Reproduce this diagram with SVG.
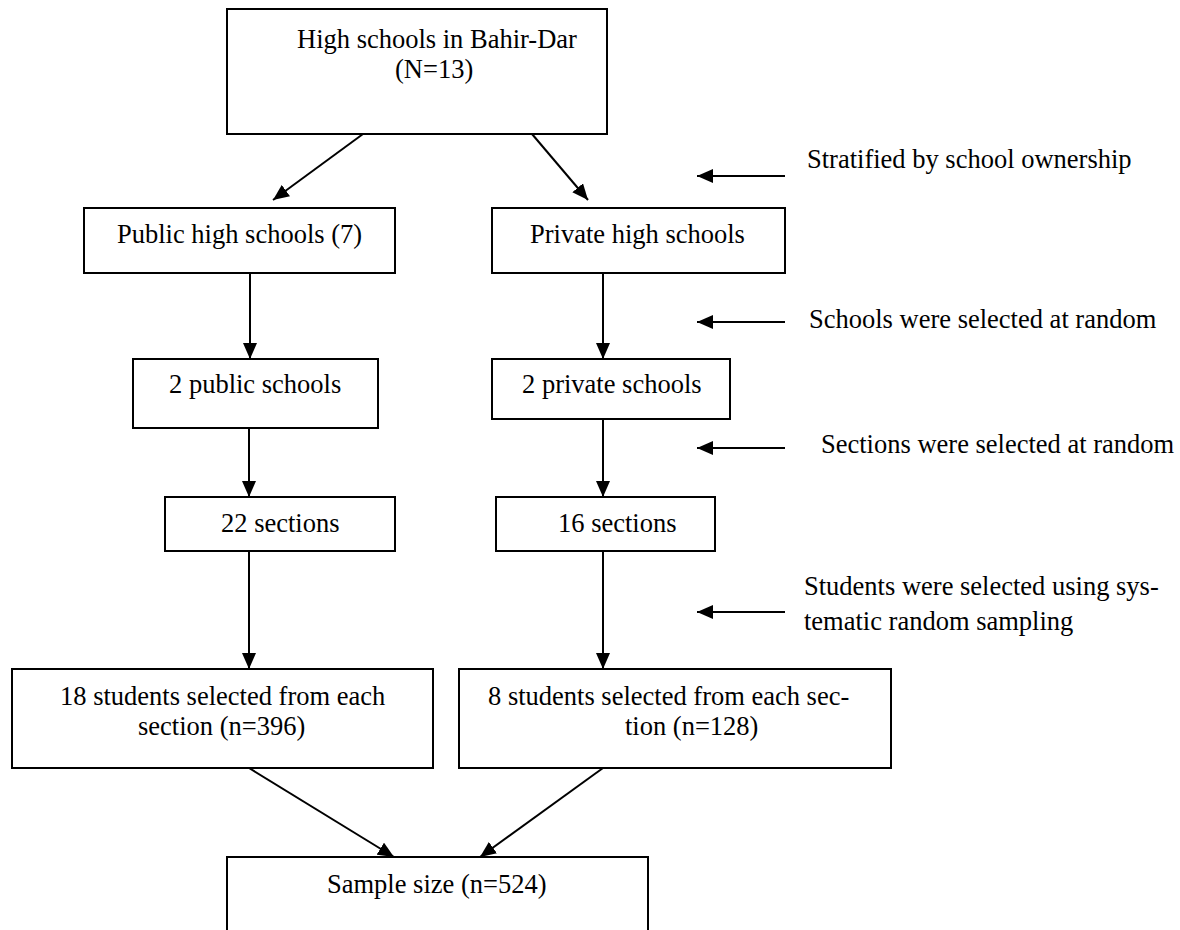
<svg xmlns="http://www.w3.org/2000/svg" width="1180" height="930" viewBox="0 0 1180 930">
<defs>
<style>
.box{fill:#fff;stroke:#000;stroke-width:2}
.t{font-family:"Liberation Serif","Times New Roman",serif;font-size:26.5px;fill:#000}
.c{stroke:#000;stroke-width:2;fill:none;marker-end:url(#ah)}
</style>
<marker id="ah" markerUnits="userSpaceOnUse" markerWidth="16" markerHeight="14" viewBox="0 0 16 14" refX="16" refY="7" orient="auto">
<path d="M0,0 L16,7 L0,14 Z" fill="#000"/>
</marker>
</defs>
<rect width="1180" height="930" fill="#fff"/>
<g id="connectors">
<line class="c" x1="363" y1="134" x2="273" y2="200"/>
<line class="c" x1="532" y1="134" x2="588" y2="200"/>
<line class="c" x1="250" y1="273" x2="250" y2="359"/>
<line class="c" x1="603" y1="273" x2="603" y2="359"/>
<line class="c" x1="249" y1="428" x2="249" y2="497"/>
<line class="c" x1="603" y1="419" x2="603" y2="497"/>
<line class="c" x1="249" y1="551" x2="249" y2="669"/>
<line class="c" x1="603" y1="551" x2="603" y2="669"/>
<line class="c" x1="249" y1="768" x2="394" y2="857"/>
<line class="c" x1="603" y1="768" x2="480" y2="857"/>
<line class="c" x1="785" y1="176" x2="697" y2="176"/>
<line class="c" x1="785" y1="322" x2="697" y2="322"/>
<line class="c" x1="785" y1="448" x2="697" y2="448"/>
<line class="c" x1="785" y1="612" x2="697" y2="612"/>
</g>
<g id="n-top"><rect class="box" x="227" y="9" width="380" height="125"/>
<text class="t" x="297" y="48">High schools in Bahir-Dar</text>
<text class="t" x="395" y="78">(N=13)</text></g>
<g id="n-public"><rect class="box" x="84" y="208" width="311" height="65"/>
<text class="t" x="117" y="243">Public high schools (7)</text></g>
<g id="n-private"><rect class="box" x="492" y="208" width="293" height="65"/>
<text class="t" x="530" y="243">Private high schools</text></g>
<g id="n-2public"><rect class="box" x="133" y="359" width="245" height="69"/>
<text class="t" x="169" y="393">2 public schools</text></g>
<g id="n-2private"><rect class="box" x="492" y="359" width="238" height="60"/>
<text class="t" x="522" y="393">2 private schools</text></g>
<g id="n-22sec"><rect class="box" x="165" y="497" width="230" height="54"/>
<text class="t" x="221" y="532">22 sections</text></g>
<g id="n-16sec"><rect class="box" x="496" y="497" width="219" height="54"/>
<text class="t" x="558" y="532">16 sections</text></g>
<g id="n-18stu"><rect class="box" x="12" y="669" width="421" height="99"/>
<text class="t" x="60" y="705">18 students selected from each</text>
<text class="t" x="138" y="735">section (n=396)</text></g>
<g id="n-8stu"><rect class="box" x="459" y="669" width="432" height="99"/>
<text class="t" x="488" y="705">8 students selected from each sec-</text>
<text class="t" x="625" y="735">tion (n=128)</text></g>
<g id="n-sample"><rect class="box" x="227" y="857" width="421" height="90"/>
<text class="t" x="327" y="893">Sample size (n=524)</text></g>
<g id="labels">
<text class="t" x="807" y="168">Stratified by school ownership</text>
<text class="t" x="809" y="328">Schools were selected at random</text>
<text class="t" x="821" y="453">Sections were selected at random</text>
<text class="t" x="804" y="595">Students were selected using sys-</text>
<text class="t" x="804" y="630">tematic random sampling</text>
</g>
</svg>
